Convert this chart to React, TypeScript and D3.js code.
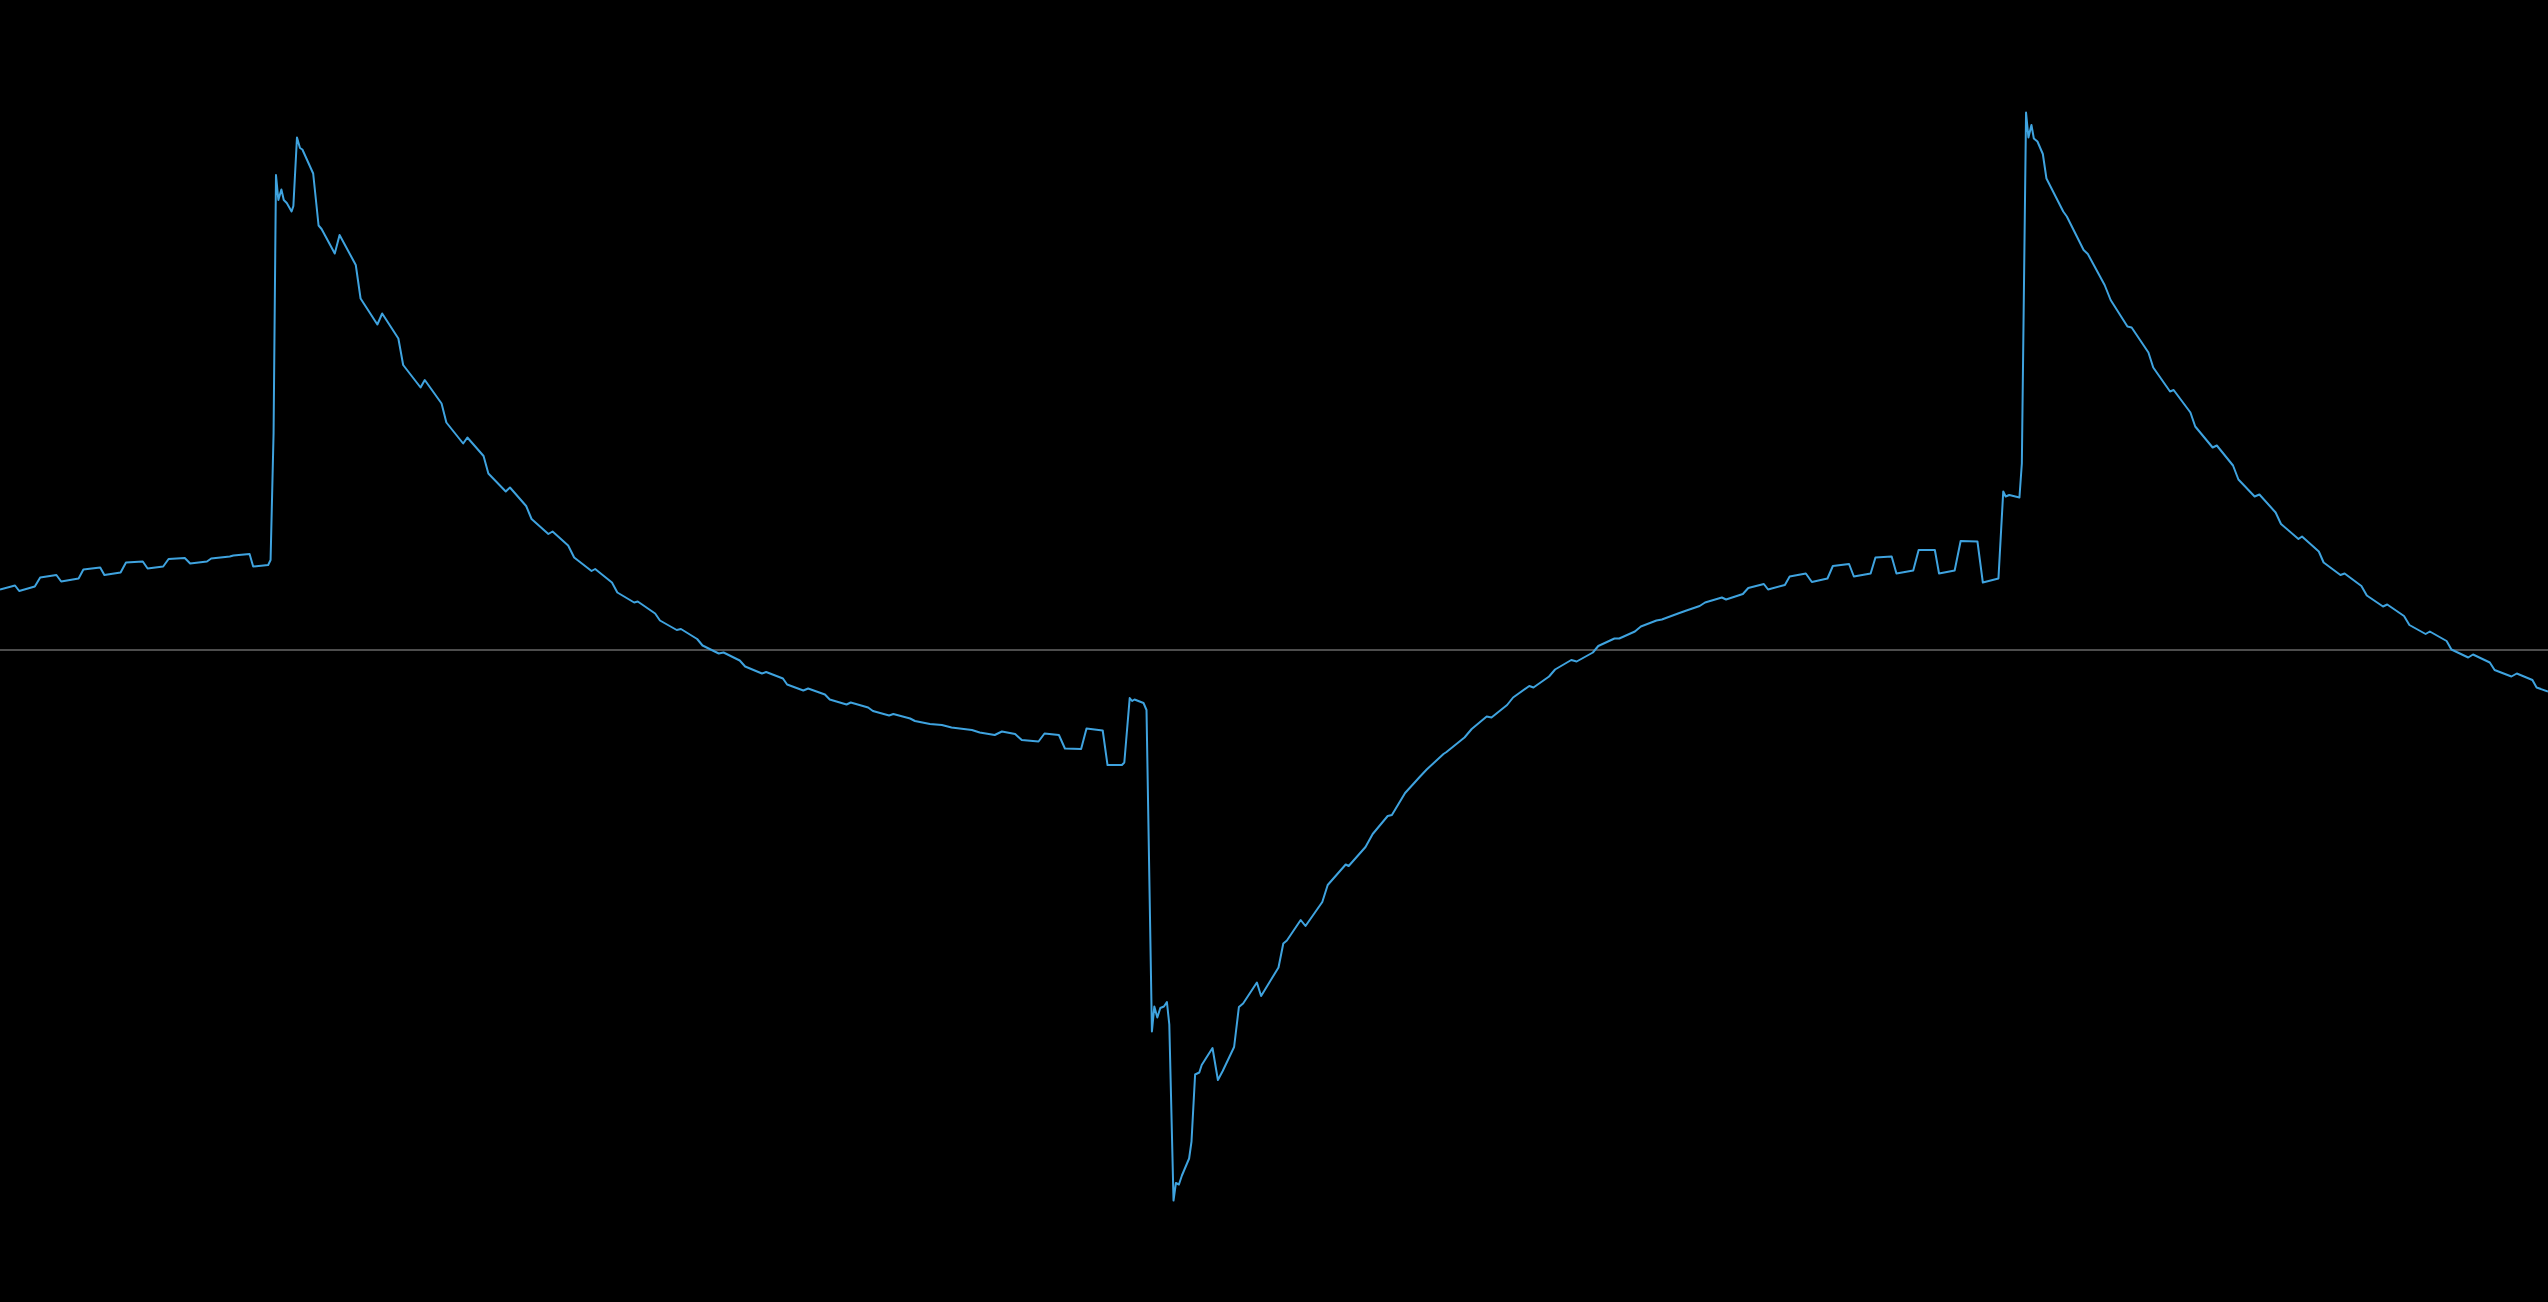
import { useEffect, useRef } from 'react';
import * as d3 from 'd3';

// time axis (days) and level
const days = [
  0, 2.5, 3.2, 5.8, 6.7, 9.4, 10.2, 13.1, 13.9, 16.7, 17.4, 20.1, 21.0, 23.8, 24.6, 27.2, 28.1, 30.8, 31.7, 34.5,
  35.2, 38.3, 38.9, 41.6, 42.2, 44.7, 45.1, 45.6, 46.0, 46.4, 46.9, 47.3, 47.8, 48.6, 48.9, 49.5, 50.0, 50.4, 52.2, 53.1,
  53.6, 55.8, 56.6, 59.3, 60.1, 62.9, 63.7, 66.4, 67.2, 70.1, 70.8, 73.6, 74.4, 77.2, 77.9, 80.6, 81.4, 84.3, 85.0, 87.7,
  88.6, 91.4, 92.1, 94.7, 95.7, 98.6, 99.2, 102.0, 102.9, 105.7, 106.3, 109.2, 110.0, 112.8, 113.5, 116.2, 117.1, 119.8, 120.6, 123.3,
  124.2, 127.0, 127.7, 130.5, 131.2, 133.9, 134.7, 137.5, 138.3, 141.1, 141.8, 144.7, 145.5, 148.2, 148.9, 151.7, 152.5, 155.0, 157.0, 158.6,
  162.0, 163.3, 165.8, 167.0, 169.2, 170.3, 173.1, 174.1, 176.5, 177.5, 180.2, 181.1, 183.8, 184.6, 187.0, 187.4, 188.3, 188.7, 189.1, 190.6,
  191.1, 192.0, 192.4, 192.9, 193.4, 194.0, 194.5, 194.9, 195.6, 196.0, 196.5, 197.0, 198.2, 198.6, 199.2, 199.9, 200.3, 202.1, 203.0, 203.8,
  205.7, 206.5, 207.2, 209.5, 210.2, 213.1, 213.9, 214.5, 216.8, 217.6, 220.4, 221.3, 224.3, 224.8, 227.6, 228.8, 231.3, 232.0, 234.2, 236.7,
  237.8, 240.6, 241.1, 244.1, 245.3, 247.8, 248.6, 251.2, 252.2, 254.9, 255.6, 258.2, 259.2, 261.9, 262.8, 265.5, 266.4, 269.1, 269.9, 272.5,
  273.5, 276.1, 277.0, 279.7, 281.1, 283.3, 284.2, 287.0, 287.7, 290.5, 291.4, 294.0, 294.7, 297.5, 298.3, 301.0, 302.0, 304.6, 305.5, 308.2,
  309.0, 311.8, 312.6, 315.3, 316.1, 318.9, 319.8, 322.5, 323.2, 325.8, 326.8, 329.6, 330.5, 333.1, 333.9, 334.3, 334.9, 336.6, 337.0, 337.7,
  338.1, 338.6, 339.0, 339.6, 340.5, 341.1, 343.9, 344.5, 347.3, 348.0, 350.8, 351.8, 354.6, 355.3, 358.1, 358.9, 361.7, 362.3, 365.1, 365.9,
  368.8, 369.5, 372.2, 373.1, 375.8, 376.6, 379.3, 380.2, 383.1, 383.7, 386.5, 387.3, 390.1, 390.8, 393.6, 394.5, 397.2, 397.9, 400.7, 401.6,
  404.3, 405.0, 407.8, 408.6, 411.4, 412.2, 415.0, 415.8, 418.6, 419.5, 422.1, 422.8, 424.7,
];

const levels = [
  12.1, 12.9, 11.8, 12.7, 14.5, 15.0, 13.7, 14.3, 16.1, 16.5, 15.0, 15.5, 17.5, 17.7, 16.3, 16.7, 18.2, 18.4, 17.3, 17.7,
  18.3, 18.7, 18.9, 19.2, 16.7, 17.0, 18.0, 43.4, 95.0, 90.0, 92.1, 90.0, 89.4, 87.7, 88.8, 102.5, 100.4, 100.1, 95.3, 84.9,
  84.2, 79.3, 83.0, 77.0, 70.3, 65.1, 67.3, 62.3, 57.0, 52.5, 54.0, 49.3, 45.5, 41.3, 42.5, 38.8, 35.3, 31.7, 32.5, 28.8,
  26.2, 23.2, 23.7, 20.9, 18.5, 15.8, 16.2, 13.5, 11.5, 9.5, 9.7, 7.3, 5.9, 4.0, 4.2, 2.2, 0.9, -0.7, -0.5, -2.1,
  -3.3, -4.7, -4.4, -5.7, -6.9, -8.1, -7.7, -8.9, -9.9, -10.9, -10.5, -11.5, -12.2, -13.1, -12.8, -13.7, -14.2, -14.8, -15.0, -15.5,
  -16.0, -16.5, -17.0, -16.3, -16.8, -18.0, -18.3, -16.7, -17.0, -19.7, -19.8, -15.7, -16.1, -23.0, -23.0, -22.5, -9.6, -10.2, -9.9, -10.6,
  -12.0, -76.3, -71.3, -73.5, -71.6, -71.3, -70.4, -74.9, -110.1, -106.6, -106.9, -105.1, -101.7, -98.3, -84.9, -84.5, -83.0, -79.6, -86.0, -84.2,
  -79.4, -71.4, -70.7, -66.5, -69.2, -63.5, -58.7, -58.1, -54.0, -55.2, -50.4, -47.0, -42.9, -43.2, -39.4, -36.8, -33.2, -33.0, -28.6, -25.3,
  -23.9, -20.8, -20.4, -17.5, -15.8, -13.3, -13.5, -11.0, -9.5, -7.2, -7.5, -5.3, -3.9, -2.0, -2.3, -0.5, 0.8, 2.3, 2.3, 3.7,
  4.7, 5.9, 6.1, 7.3, 7.9, 8.8, 9.5, 10.5, 10.1, 11.2, 12.4, 13.2, 12.1, 13.0, 14.7, 15.3, 13.6, 14.3, 16.8, 17.2,
  14.7, 15.3, 18.5, 18.7, 15.3, 15.9, 20.0, 20.0, 15.3, 15.9, 21.8, 21.7, 13.5, 14.3, 31.7, 30.7, 31.0, 30.5, 37.3, 107.5,
  102.5, 105.0, 102.3, 101.7, 99.2, 94.3, 87.7, 86.7, 80.0, 79.2, 73.0, 70.0, 64.7, 64.5, 59.5, 56.5, 51.7, 52.0, 47.5, 44.7,
  40.5, 40.9, 36.9, 34.1, 30.7, 31.1, 27.5, 25.2, 22.2, 22.7, 19.7, 17.5, 15.0, 15.3, 12.8, 10.9, 8.7, 9.1, 6.8, 5.0,
  3.2, 3.7, 1.8, 0.1, -1.5, -0.9, -2.5, -4.0, -5.3, -4.7, -6.0, -7.5, -8.3,
];

const W = 2548;
const H = 1302;

const App = () => {
  const ref = useRef<SVGSVGElement | null>(null);

  useEffect(() => {
    document.body.style.margin = '0';
    document.body.style.background = '#000';

    const svg = d3.select(ref.current);
    svg.selectAll('*').remove();

    const x = d3.scaleLinear().domain([0, 424.7]).range([0, W]);
    const y = d3.scaleLinear().domain([-130, 130]).range([1300, 0]);

    svg.append('rect').attr('width', W).attr('height', H).attr('fill', '#000');

    // zero baseline
    svg
      .append('line')
      .attr('x1', 0)
      .attr('x2', W)
      .attr('y1', y(0))
      .attr('y2', y(0))
      .attr('stroke', '#9a9a9a')
      .attr('stroke-width', 1);

    const pts = days.map((d, i) => [d, levels[i]] as [number, number]);
    const line = d3
      .line<[number, number]>()
      .x((d) => x(d[0]))
      .y((d) => y(d[1]));

    svg
      .append('path')
      .datum(pts)
      .attr('d', line)
      .attr('fill', 'none')
      .attr('stroke', '#3fa3df')
      .attr('stroke-width', 2)
      .attr('stroke-linejoin', 'round');
  }, []);

  return <svg ref={ref} width={W} height={H} style={{ display: 'block' }} />;
};

export default App;
